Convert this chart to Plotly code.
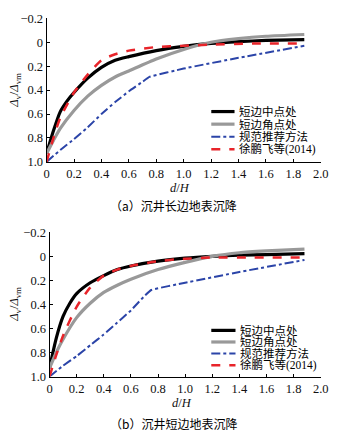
import plotly.graph_objects as go

# ---- data (top panel: long side) ----
x_mid_a = [0, 0.05, 0.1, 0.15, 0.2, 0.3, 0.4, 0.5, 0.6, 0.8, 1.0, 1.2, 1.4, 1.6, 1.88]
y_mid_a = [0.93, 0.74, 0.58, 0.49, 0.42, 0.30, 0.21, 0.15, 0.12, 0.07, 0.035, 0.01, -0.005, -0.015, -0.022]
x_cor_a = [0, 0.05, 0.1, 0.2, 0.3, 0.4, 0.5, 0.6, 0.8, 1.0, 1.2, 1.4, 1.6, 1.88]
y_cor_a = [0.93, 0.82, 0.72, 0.57, 0.45, 0.36, 0.29, 0.24, 0.14, 0.06, 0.0, -0.03, -0.05, -0.065]
x_std_a = [0, 0.1, 0.2, 0.3, 0.4, 0.5, 0.6, 0.7, 0.75, 1.0, 1.4, 1.88]
y_std_a = [1.0, 0.9, 0.81, 0.71, 0.6, 0.5, 0.41, 0.33, 0.29, 0.22, 0.13, 0.03]
x_xu_a = [0, 0.05, 0.1, 0.2, 0.3, 0.4, 0.5, 0.6, 0.8, 1.0, 1.2, 1.5, 1.88]
y_xu_a = [1.0, 0.8, 0.63, 0.42, 0.27, 0.15, 0.1, 0.07, 0.04, 0.03, 0.02, 0.01, 0.01]

# ---- data (bottom panel: short side) ----
x_mid_b = [0, 0.05, 0.1, 0.15, 0.2, 0.3, 0.4, 0.5, 0.6, 0.8, 1.0, 1.2, 1.4, 1.6, 1.88]
y_mid_b = [0.93, 0.68, 0.5, 0.39, 0.31, 0.22, 0.16, 0.11, 0.08, 0.04, 0.015, 0.0, -0.01, -0.015, -0.022]
x_cor_b = [0, 0.05, 0.1, 0.2, 0.3, 0.4, 0.5, 0.6, 0.8, 1.0, 1.2, 1.4, 1.6, 1.88]
y_cor_b = [0.93, 0.8, 0.69, 0.51, 0.39, 0.3, 0.24, 0.19, 0.11, 0.05, 0.0, -0.03, -0.045, -0.06]
x_std_b = [0, 0.1, 0.2, 0.3, 0.4, 0.5, 0.6, 0.7, 0.75, 1.0, 1.4, 1.88]
y_std_b = [1.0, 0.91, 0.83, 0.74, 0.65, 0.55, 0.45, 0.33, 0.28, 0.22, 0.13, 0.03]
x_xu_b = [0, 0.05, 0.1, 0.2, 0.3, 0.4, 0.5, 0.6, 0.8, 1.0, 1.2, 1.5, 1.88]
y_xu_b = [1.0, 0.82, 0.66, 0.42, 0.26, 0.16, 0.11, 0.08, 0.04, 0.02, 0.01, 0.01, 0.01]

names = ["短边中点处", "短边角点处", "规范推荐方法", "徐鹏飞等(2014)"]
colors = ["#000000", "#999999", "#2b44a8", "#e8242a"]
widths = [3.2, 3.2, 2, 2.5]
dashes = ["solid", "solid", "dashdot", "dash"]

tickvals_y = [-0.2, 0, 0.2, 0.4, 0.6, 0.8, 1.0]
ticktext_y = ["\u22120.2", "0", "0.2", "0.4", "0.6", "0.8", "1.0"]
tickvals_x = [0, 0.2, 0.4, 0.6, 0.8, 1.0, 1.2, 1.4, 1.6, 1.8, 2.0]
ticktext_x = ["0", "0.2", "0.4", "0.6", "0.8", "1.0", "1.2", "1.4", "1.6", "1.8", "2.0"]

SERIF = "Liberation Serif"
CJK = "Noto Sans CJK SC"

fig = go.Figure()
panels = [
    ([x_mid_a, x_cor_a, x_std_a, x_xu_a], [y_mid_a, y_cor_a, y_std_a, y_xu_a], "x", "y"),
    ([x_mid_b, x_cor_b, x_std_b, x_xu_b], [y_mid_b, y_cor_b, y_std_b, y_xu_b], "x2", "y2"),
]
for xs, ys, xa, ya in panels:
    for i in range(4):
        fig.add_trace(go.Scatter(
            x=xs[i], y=ys[i], mode="lines", name=names[i], showlegend=False,
            line=dict(color=colors[i], width=widths[i], dash=dashes[i], shape="spline",
                      smoothing=0.6 if i != 2 else 0.3),
            xaxis=xa, yaxis=ya,
        ))

axis_common = dict(showgrid=False, zeroline=False, showline=True, linecolor="#000", linewidth=1,
                   ticks="inside", ticklen=3, tickcolor="#000", mirror=False,
                   tickfont=dict(family=SERIF, size=12.5, color="#111"))

W, H = 352, 440

ytitle = "<i>Δ</i><sub>v</sub>/<i>Δ</i><sub>vm</sub>"
xtitle = "<i>d</i>/<i>H</i>"
fig.update_layout(
    width=W, height=H, margin=dict(l=0, r=0, t=0, b=0),
    paper_bgcolor="white", plot_bgcolor="white", showlegend=False,
    xaxis=dict(domain=[45 / W, 328 / W], range=[0, 2.0], tickvals=tickvals_x, ticktext=ticktext_x, anchor="y",
               **axis_common),
    yaxis=dict(domain=[1 - 160 / H, 1 - 11.7 / H], range=[1.0, -0.2], tickvals=tickvals_y, ticktext=ticktext_y, anchor="x",
               **axis_common),
    xaxis2=dict(domain=[48 / W, 328 / W], range=[0, 2.0], tickvals=tickvals_x, ticktext=ticktext_x, anchor="y2",
                **axis_common),
    yaxis2=dict(domain=[1 - 381.7 / H, 1 - 232.7 / H], range=[1.0, -0.2], tickvals=tickvals_y, ticktext=ticktext_y, anchor="x2",
                **axis_common),
)

# axis titles
for xc, yc in [(183, 187), (185, 409)]:
    fig.add_annotation(text=xtitle, x=xc / W, y=1 - yc / H, xref="paper", yref="paper", showarrow=False,
                       xanchor="center", yanchor="middle", font=dict(family=SERIF, size=12.5, color="#111"))
for xc, yc in [(13, 86), (13, 307)]:
    fig.add_annotation(text=ytitle, x=xc / W, y=1 - yc / H, xref="paper", yref="paper", showarrow=False,
                       textangle=-90, xanchor="center", yanchor="middle",
                       font=dict(family=SERIF, size=12.5, color="#111"))

# manual legends (paper coordinates)
legend_rows = [
    (215, 239, 242, [108, 121, 134, 147]),
    (215, 240, 243, [334, 346, 358, 370]),
]
for x0, x1, xt, rows in legend_rows:
    for i, yr in enumerate(rows):
        yp = 1 - yr / H
        fig.add_shape(type="line", xref="paper", yref="paper", x0=x0 / W, x1=x1 / W, y0=yp, y1=yp,
                      line=dict(color=colors[i], width=widths[i], dash=dashes[i]))
        fig.add_annotation(text=names[i], x=xt / W, y=yp, xref="paper", yref="paper", showarrow=False,
                           xanchor="left", yanchor="middle",
                           font=dict(family="Liberation Serif, Noto Sans CJK SC", size=11.5, color="#000"))

fig.add_annotation(text="（a）沉井长边地表沉降", x=0.5, y=1 - 205 / H, xref="paper", yref="paper",
                   showarrow=False, font=dict(family=CJK, size=12, color="#000"), xanchor="center", yanchor="middle")
fig.add_annotation(text="（b）沉井短边地表沉降", x=0.5, y=1 - 430 / H, xref="paper", yref="paper",
                   showarrow=False, font=dict(family=CJK, size=12, color="#000"), xanchor="center", yanchor="middle")

fig.write_html("out.html")
